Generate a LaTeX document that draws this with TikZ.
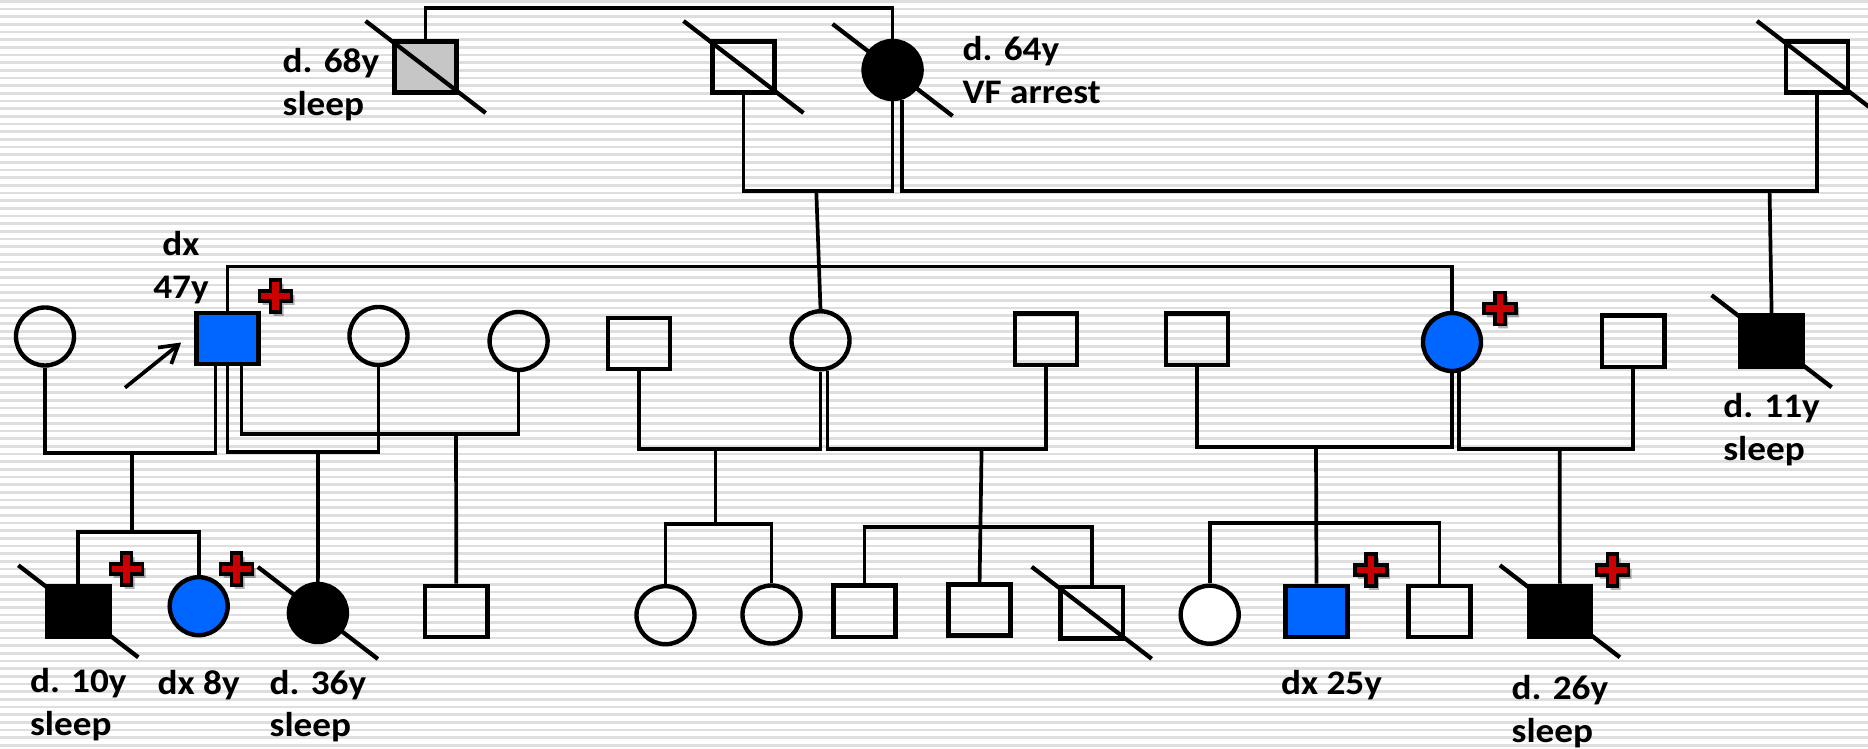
\documentclass[tikz,border=0pt]{standalone}
\usepackage{fontspec}
\setmainfont{Carlito}[FakeStretch=1.08]
\usetikzlibrary{arrows.meta,positioning,calc}

\definecolor{dxblue}{RGB}{0,102,255}
\definecolor{crossred}{RGB}{204,0,0}
\definecolor{stripegray}{RGB}{222,222,222}
\definecolor{obsgray}{RGB}{198,198,198}

\begin{document}
\begin{tikzpicture}[x=0.01cm, y=-0.01cm, >={Straight Barb[length=5pt,width=6pt]},
  male/.style={draw, line width=1.25pt, minimum width=6.2mm, minimum height=5.1mm, inner sep=0pt},
  female/.style={draw, circle, line width=1.25pt, minimum size=5.8mm, inner sep=0pt},
  link/.style={line width=1.05pt},
  lbl/.style={font=\bfseries\fontsize{9.8}{12}\selectfont, align=left, inner sep=0pt},
  plusmark/.pic={
    \fill[black, opacity=0.3, shift={(3,4)}] (-5,-16) -- (5,-16) -- (5,-5) -- (16,-5) -- (16,5) -- (5,5) -- (5,16) -- (-5,16) -- (-5,5) -- (-16,5) -- (-16,-5) -- (-5,-5) -- cycle;
    \draw[line width=1pt, fill=crossred] (-5,-16) -- (5,-16) -- (5,-5) -- (16,-5) -- (16,5) -- (5,5) -- (5,16) -- (-5,16) -- (-5,5) -- (-16,5) -- (-16,-5) -- (-5,-5) -- cycle;
  }]
\useasboundingbox (0,0) rectangle (1868,749);
\clip (0,0) rectangle (1868,749);
\fill[white] (0,0) rectangle (1868,749);
\foreach \k in {0,...,97}
  \fill[stripegray] (0,{7.67*\k}) rectangle (1868,{7.67*\k+2.7});

% generation I
\node[male, fill=obsgray] (gpA) at (425.6,67) {};
\node[male] (gpB) at (743.5,67) {};
\node[female, fill=black] (gmB) at (892.6,70) {};
\node[male] (gpC) at (1817,67) {};
% generation II
\node[female] (w1) at (45,336.5) {};
\node[male, fill=dxblue] (pro) at (227.4,338.5) {};
\node[female] (w2) at (378.5,336) {};
\node[female] (w3) at (518.6,341) {};
\node[male] (hA) at (639.2,343.3) {};
\node[female] (mo) at (820.5,340.3) {};
\node[male] (hB) at (1045.9,339.2) {};
\node[male] (hC) at (1197,339.2) {};
\node[female, fill=dxblue] (sis) at (1452,342) {};
\node[male] (hD) at (1633.3,341.2) {};
\node[male, fill=black] (d11) at (1771.6,341.2) {};
% generation III
\node[male, fill=black] (c1) at (78.3,611.3) {};
\node[female, fill=dxblue] (c2) at (198.7,606.2) {};
\node[female, fill=black] (c3) at (317.9,613) {};
\node[male] (c4) at (456.3,611.3) {};
\node[female] (ca) at (665.5,615.2) {};
\node[female] (cb) at (771.5,614.5) {};
\node[male] (cc) at (864.4,611.2) {};
\node[male] (cd) at (979.6,610) {};
\node[male] (ce) at (1091.7,612.8) {};
\node[female, fill=white] (cf) at (1209.7,614.7) {};
\node[male, fill=dxblue] (cg) at (1316.5,611.3) {};
\node[male] (ch) at (1439.5,611.3) {};
\node[male, fill=black] (c26) at (1559.9,611.3) {};

% deceased
\foreach \n in {gpA,gpB,gmB,gpC,d11,c1,c3,ce,c26}
  \draw[line width=1.2pt] (\n.center) ++(-60,-46) -- ++(120,92);

% generation I lines
\draw[link] (gpA.north) -- ++(0,-31) -| (gmB.north);
\coordinate (mI) at (816.3,191);
\draw[link] (gpB.south) |- (mI) -| (gmB.south);
\draw[link] (mI) -- (mo.north);
\coordinate (mII) at (1769.6,191);
\draw[link] (gmB.-72) |- (mII) -| (gpC.south);
\draw[link] (mII) -- (d11.north);
\draw[link] (pro.north) -- ++(0,-44.3) -| (sis.north);

% generation II lines
\coordinate (mA) at (132,453.3);
\draw[link] (w1.south) |- (mA) -| ($(pro.south)+(-12,0)$);
\coordinate (mB) at (318,452.3);
\draw[link] (pro.south) |- (mB) -| (w2.south);
\coordinate (mC) at (456,434.3);
\draw[link] ($(pro.south)+(14,0)$) |- (mC) -| (w3.south);
\coordinate (mD) at (715.5,449);
\draw[link] (hA.south) |- (mD) -| (mo.south);
\coordinate (mE) at (981.6,449);
\draw[link] (mo.-77) |- (mE) -| (hB.south);
\coordinate (mF) at (1316,447.3);
\draw[link] (hC.south) |- (mF) -| (sis.south);
\coordinate (mG) at (1559.7,449);
\draw[link] (sis.-77) |- (mG) -| (hD.south);

% generation III lines
\draw[link] (mA) -- ++(0,78.4) coordinate (sA);
\draw[link] (c1.north) |- (sA) -| (c2.north);
\draw[link] (mB) -- (c3.north);
\draw[link] (mC) -- (c4.north);
\draw[link] (mD) -- ++(0,74.7) coordinate (sD);
\draw[link] (ca.north) |- (sD) -| (cb.north);
\draw[link] (mE) -- (cd.north);
\path (mE) ++(0,78.3) coordinate (sE);
\draw[link] (cc.north) |- (sE) -| (ce.north);
\draw[link] (mF) -- (cg.north);
\path (mF) ++(0,76) coordinate (sF);
\draw[link] (cf.north) |- (sF) -| (ch.north);
\draw[link] (mG) -- (c26.north);

% proband arrow
\coordinate (arr) at (125,387.7);
\draw[link, ->] (arr) -- ($(pro.west)+(-13,4)$);

% carriers
\pic at (275.6,296) {plusmark};
\pic at (1500,308.5) {plusmark};
\pic at (126.5,569) {plusmark};
\pic at (236.5,569) {plusmark};
\pic at (1370.8,570) {plusmark};
\pic at (1612.6,570) {plusmark};

% labels
\node[lbl, anchor=north west] (t68) at (282,48) {d. 68y\\sleep};
\node[lbl, anchor=north west] (t64) at (962,36) {d. 64y\\VF arrest};
\node[lbl, align=center, anchor=north] (t47) at (181,231) {dx\\47y};
\node[lbl, below=2.9mm of c1] (t10) {d. 10y\\sleep};
\node[lbl, below=3.2mm of c2] (t8) {dx 8y};
\node[lbl, below=2.5mm of c3] (t36) {d. 36y\\sleep};
\node[lbl, below=3.1mm of cg, xshift=1.5mm] (t25) {dx 25y};
\node[lbl, below=3.6mm of c26] (t26) {d. 26y\\sleep};
\node[lbl, below=2.4mm of d11] (t11) {d. 11y\\sleep};
\end{tikzpicture}
\end{document}
